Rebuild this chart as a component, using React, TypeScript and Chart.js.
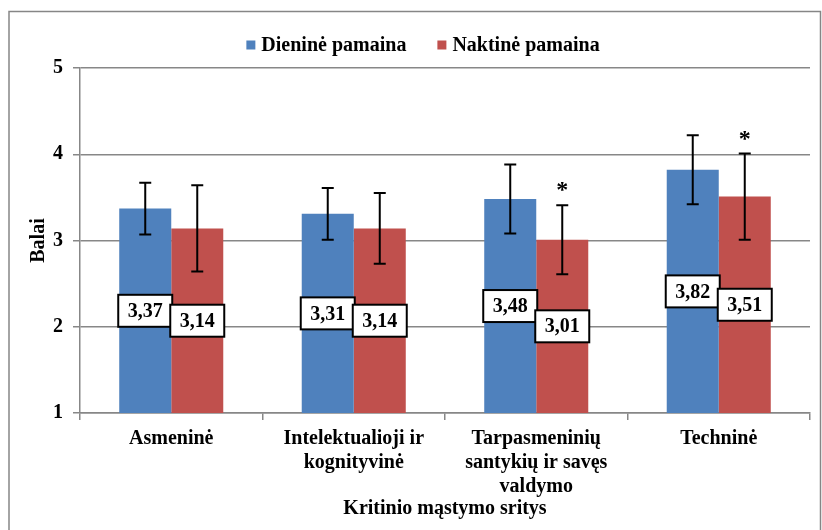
import React, { useEffect, useRef } from "react";
import { Chart, registerables } from "chart.js";

Chart.register(...registerables);

const categories = [
  ["Asmeninė"],
  ["Intelektualioji ir", "kognityvinė"],
  ["Tarpasmeninių", "santykių ir savęs", "valdymo"],
  ["Techninė"],
];
const seriesNames = ["Dieninė pamaina", "Naktinė pamaina"];
const dayValues = [3.37, 3.31, 3.48, 3.82];
const nightValues = [3.14, 3.14, 3.01, 3.51];
const dayErrors = [0.3, 0.3, 0.4, 0.4];
const nightErrors = [0.5, 0.41, 0.4, 0.5];
const daySignificance = ["", "", "", ""];
const nightSignificance = ["", "", "*", "*"];
const yTicks = [1, 2, 3, 4, 5];
const yTitle = "Balai";
const xTitle = "Kritinio mąstymo sritys";
const seriesColors = ["#4F81BD", "#C0504D"];

const FONT = "'Liberation Serif', 'Times New Roman', serif";
const GRID = "#878787";

const fmt = (v: number) => v.toFixed(2).replace(".", ",");

const framePlugin = {
  id: "frame",
  beforeDraw(chart: any) {
    const ctx = chart.ctx;
    ctx.save();
    ctx.strokeStyle = "#868686";
    ctx.lineWidth = 1.5;
    ctx.strokeRect(9, 11.5, 811.5, 600);
    ctx.restore();
  },
};

const legendPlugin = {
  id: "customLegend",
  afterDraw(chart: any) {
    const ctx = chart.ctx;
    ctx.save();
    ctx.font = `bold 20px ${FONT}`;
    const box = 9;
    const gap = 6;
    const itemGap = 31;
    const items = chart.data.datasets.map((ds: any) => ({
      text: ds.label,
      color: ds.backgroundColor,
      w: box + gap + ctx.measureText(ds.label).width,
    }));
    const total =
      items.reduce((s: number, it: any) => s + it.w, 0) + itemGap * (items.length - 1);
    let x = chart.width / 2 + 12 - total / 2;
    const y = 45;
    ctx.textBaseline = "middle";
    ctx.textAlign = "left";
    for (const it of items) {
      ctx.fillStyle = it.color;
      ctx.fillRect(x, y - 4.5, box, box);
      ctx.fillStyle = "#000";
      ctx.fillText(it.text, x + box + gap, y + 1);
      x += it.w + itemGap;
    }
    ctx.restore();
  },
};

const annotatePlugin = {
  id: "annotate",
  afterDatasetsDraw(chart: any) {
    const ctx = chart.ctx;
    const yScale = chart.scales.y;
    // error bars and significance marks
    chart.data.datasets.forEach((ds: any, di: number) => {
      const meta = chart.getDatasetMeta(di);
      meta.data.forEach((bar: any, i: number) => {
        const v = ds.data[i];
        const e = ds.errors[i];
        const top = yScale.getPixelForValue(v + e);
        const bot = yScale.getPixelForValue(v - e);
        const x = bar.x;
        ctx.save();
        ctx.strokeStyle = "#000";
        ctx.lineWidth = 2;
        ctx.beginPath();
        ctx.moveTo(x, top);
        ctx.lineTo(x, bot);
        ctx.moveTo(x - 6, top);
        ctx.lineTo(x + 6, top);
        ctx.moveTo(x - 6, bot);
        ctx.lineTo(x + 6, bot);
        ctx.stroke();
        if (ds.marks[i]) {
          ctx.font = `bold 24px ${FONT}`;
          ctx.textAlign = "center";
          ctx.textBaseline = "middle";
          ctx.fillStyle = "#000";
          ctx.fillText(ds.marks[i], x, top - 14);
        }
        ctx.restore();
      });
    });
    // value labels in boxes, centred on the visible bar
    const floor = yScale.getPixelForValue(yScale.min);
    chart.data.datasets.forEach((ds: any, di: number) => {
      const meta = chart.getDatasetMeta(di);
      meta.data.forEach((bar: any, i: number) => {
        const p = bar.getProps(["x", "y"], true);
        const cy = (p.y + floor) / 2;
        const w = 54;
        const h = 32;
        ctx.save();
        ctx.fillStyle = "#fff";
        ctx.fillRect(p.x - w / 2, cy - h / 2, w, h);
        ctx.strokeStyle = "#000";
        ctx.lineWidth = 2;
        ctx.strokeRect(p.x - w / 2, cy - h / 2, w, h);
        ctx.font = `bold 20px ${FONT}`;
        ctx.fillStyle = "#000";
        ctx.textAlign = "center";
        ctx.textBaseline = "middle";
        ctx.fillText(fmt(ds.data[i]), p.x, cy + 1);
        ctx.restore();
      });
    });
  },
};

export default function App() {
  const ref = useRef<HTMLCanvasElement>(null);

  useEffect(() => {
    if (!ref.current) return;
    const tickFont = { family: FONT, size: 20, weight: "bold" as const, lineHeight: 1.2 };
    const chart = new Chart(ref.current, {
      type: "bar",
      data: {
        labels: categories,
        datasets: [
          {
            label: seriesNames[0],
            data: dayValues,
            backgroundColor: seriesColors[0],
            errors: dayErrors,
            marks: daySignificance,
          } as any,
          {
            label: seriesNames[1],
            data: nightValues,
            backgroundColor: seriesColors[1],
            errors: nightErrors,
            marks: nightSignificance,
          } as any,
        ],
      },
      options: {
        animation: false,
        responsive: false,
        devicePixelRatio: 1,
        layout: { padding: { left: 10, right: 12, top: 68, bottom: 0 } },
        datasets: { bar: { categoryPercentage: 0.57, barPercentage: 1 } },
        plugins: {
          legend: { display: false },
          tooltip: { enabled: false },
        },
        scales: {
          x: {
            type: "category",
            grid: {
              display: true,
              drawOnChartArea: false,
              drawTicks: true,
              tickLength: 7,
              color: GRID,
              lineWidth: 1.5,
              offset: true,
            },
            border: { color: GRID, width: 1.5 },
            ticks: {
              font: tickFont,
              color: "#000",
              padding: 7,
              maxRotation: 0,
              autoSkip: false,
            },
            title: {
              display: true,
              text: xTitle,
              font: tickFont,
              color: "#000",
              padding: { top: 0, bottom: 9 },
            },
            afterFit: (s: any) => {
              s.height = 117;
            },
          },
          y: {
            min: 1,
            max: 5,
            afterBuildTicks: (s: any) => {
              s.ticks = yTicks.map((v) => ({ value: v }));
            },
            ticks: { font: tickFont, color: "#000", padding: 10 },
            grid: { color: GRID, lineWidth: 1.5, tickLength: 7 },
            border: { color: GRID, width: 1.5 },
            title: {
              display: true,
              text: yTitle,
              font: tickFont,
              color: "#000",
              padding: { top: 17, bottom: 0 },
            },
            afterFit: (s: any) => {
              s.width = 70;
            },
          },
        },
      } as any,
      plugins: [framePlugin, annotatePlugin, legendPlugin],
    });
    return () => chart.destroy();
  }, []);

  return (
    <div style={{ position: "absolute", left: 0, top: 0, width: 822, height: 530, background: "#fff" }}>
      <canvas ref={ref} width={822} height={530} style={{ display: "block" }} />
    </div>
  );
}
